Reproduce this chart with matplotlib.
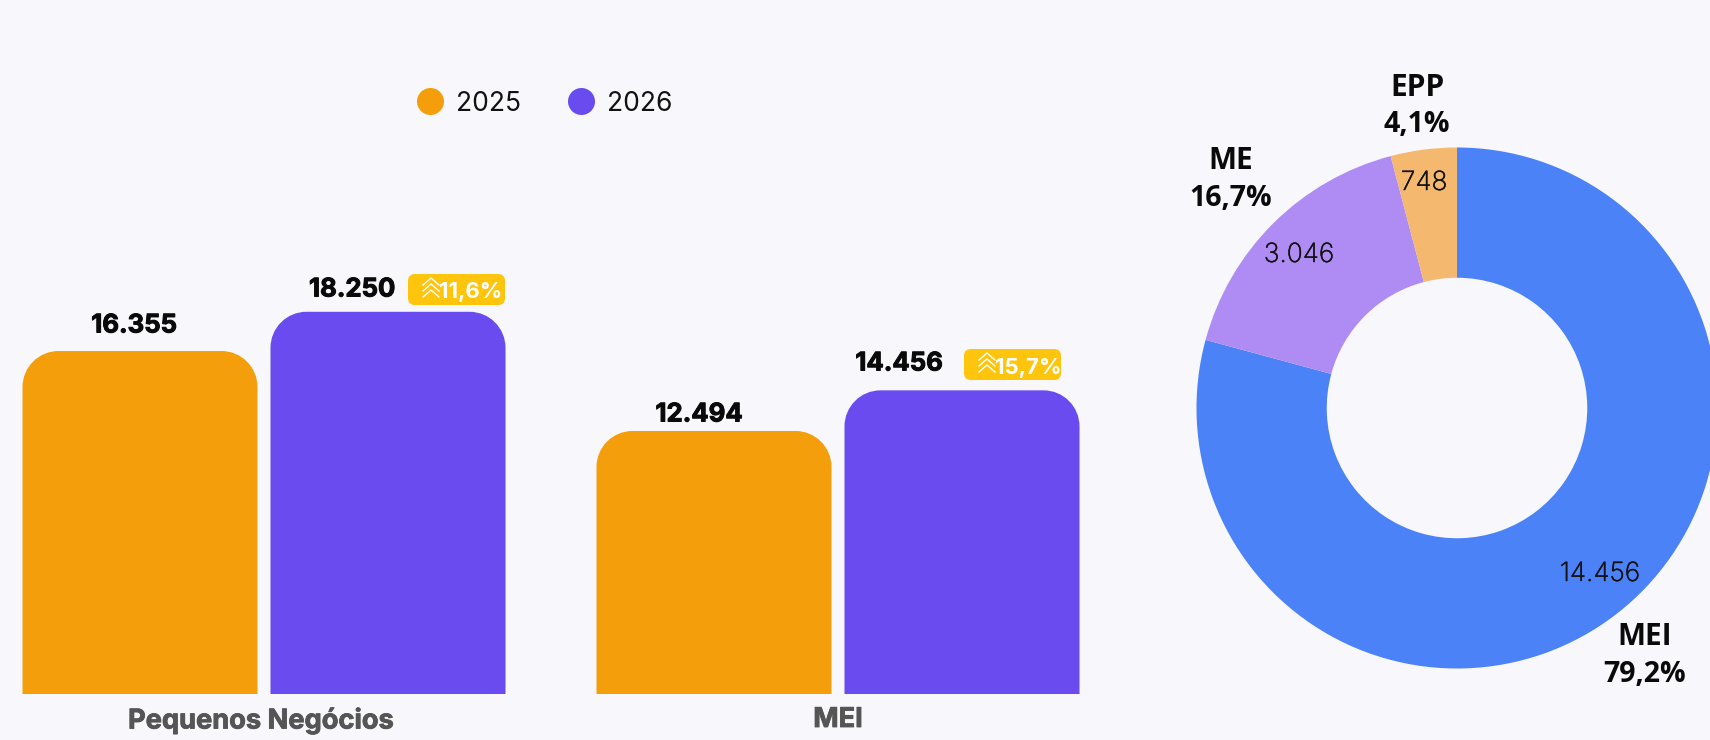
import matplotlib
matplotlib.use("Agg")
import matplotlib.pyplot as plt
import matplotlib.patheffects as pe
from matplotlib.patches import FancyBboxPatch, PathPatch, Circle
from matplotlib.path import Path

BG = "#F7F7FC"
ORANGE = "#F59E0B"
PURPLE = "#6A4BF0"
YELLOW = "#FFC40C"

categories = ["Pequenos Negócios", "MEI"]
years = ["2025", "2026"]
values_2025 = [16355, 12494]
values_2026 = [18250, 14456]
growth = ["11,6%", "15,7%"]

pie_names = ["MEI", "ME", "EPP"]
pie_values = [14456, 3046, 748]
pie_share = ["79,2%", "16,7%", "4,1%"]
pie_labels = ["14.456", "3.046", "748"]
pie_colors = ["#4C82F7", "#AF8CF4", "#F4B86E"]


def fmt(v):
    return f"{v:,}".replace(",", ".")


W, H = 1710, 740
fig = plt.figure(figsize=(W / 100, H / 100), dpi=100, facecolor=BG)


def box(x0, y0, x1, y1):
    # pixel box, y from the top
    return [x0 / W, 1 - y1 / H, (x1 - x0) / W, (y1 - y0) / H]


# bars
base_px = 694.4
top_px = 100
y_min = -225
px_per_unit = 0.02071
ax = fig.add_axes(box(0, top_px, 1100, base_px))
ax.set_facecolor("none")
ax.set_xlim(-264 / 574, (1100 - 264) / 574)
ax.set_ylim(y_min, y_min + (base_px - top_px) / px_per_unit)
ax.axis("off")

bar_w = 235 / 574
offset = 124 / 574
radius = 36
K = 0.5523


def round_top(bar):
    x0, x1 = bar.get_x(), bar.get_x() + bar.get_width()
    y0, y1 = bar.get_y(), bar.get_y() + bar.get_height()
    rx = radius / 574
    ry = radius / px_per_unit
    verts = [(x0, y0), (x0, y1 - ry),
             (x0, y1 - ry + K * ry), (x0 + rx - K * rx, y1), (x0 + rx, y1),
             (x1 - rx, y1),
             (x1 - rx + K * rx, y1), (x1, y1 - ry + K * ry), (x1, y1 - ry),
             (x1, y0), (x0, y0)]
    codes = [Path.MOVETO, Path.LINETO,
             Path.CURVE4, Path.CURVE4, Path.CURVE4,
             Path.LINETO,
             Path.CURVE4, Path.CURVE4, Path.CURVE4,
             Path.LINETO, Path.CLOSEPOLY]
    ax.add_patch(PathPatch(Path(verts, codes), fc=bar.get_facecolor(), ec="none"))
    bar.set_visible(False)


for i in range(len(categories)):
    for x, v, c in [(i - offset, values_2025[i], ORANGE), (i + offset, values_2026[i], PURPLE)]:
        b = ax.bar(x, v - y_min, bottom=y_min, width=bar_w, color=c)[0]
        round_top(b)

# overlay in pixels for text and small decorations
ov = fig.add_axes([0, 0, 1, 1])
ov.set_xlim(0, W)
ov.set_ylim(H, 0)
ov.axis("off")
ov.patch.set_alpha(0)
ov.set_zorder(5)

heavy = [pe.withStroke(linewidth=0.7, foreground="#0A0A0A")]
heavy_grey = [pe.withStroke(linewidth=0.6, foreground="#555555")]
val_font = dict(family="Inter", fontweight="bold", fontsize=18.5, color="#0A0A0A", ha="center", va="center",
                path_effects=heavy)
ov.text(134, 326, fmt(values_2025[0]), **val_font)
ov.text(352, 290, fmt(values_2026[0]), **val_font)
ov.text(699, 415, fmt(values_2025[1]), **val_font)
ov.text(899, 364, fmt(values_2026[1]), **val_font)

cat_font = dict(family="Inter", fontweight="bold", fontsize=19.6, color="#555555", ha="center", va="center",
                path_effects=heavy_grey)
ov.text(261, 721, categories[0], **cat_font)
ov.text(838, 720, categories[1], **cat_font)

# growth badges
for (x0, y0), label in zip([(408, 274), (964, 349)], growth):
    ov.add_patch(FancyBboxPatch((x0 + 6, y0 + 6), 85, 19, boxstyle="round,pad=6,rounding_size=7",
                                fc=YELLOW, ec="none"))
    ov.text(x0 + 31, y0 + 18.5, label, family="Inter", fontweight="bold", fontsize=16, color="white",
            ha="left", va="center")
    cx = x0 + 23
    for dy in [4, 10, 16]:
        ov.plot([cx - 8, cx, cx + 8], [y0 + dy + 7, y0 + dy, y0 + dy + 7], color="white", lw=1.0,
                solid_joinstyle="miter")

# legend
for x, c, label in [(430.5, ORANGE, years[0]), (581.5, PURPLE, years[1])]:
    ov.add_patch(Circle((x, 101.5), 13.5, fc=c, ec="none"))
    ov.text(x + 25, 104, label, family="Inter", fontsize=19, color="#111111", ha="left", va="center")

# donut
cx, cy, r = 1457, 408, 260.5
ax2 = fig.add_axes(box(cx - r, cy - r, cx + r, cy + r))
ax2.pie(pie_values, colors=pie_colors, startangle=90, counterclock=False, radius=1,
        wedgeprops=dict(width=0.5, linewidth=0))
ax2.set_xlim(-1, 1)
ax2.set_ylim(-1, 1)

thin = [pe.withStroke(linewidth=0.35, foreground="#111111")]
for (x, y), label in zip([(1600, 574), (1299, 255), (1424, 183)], pie_labels):
    ov.text(x, y, label, family="Inter", fontsize=19, fontweight="light", color="#111111", ha="center", va="center",
            path_effects=thin)

name_font = dict(family="Open Sans", fontweight="bold", fontsize=21.5, color="#0A0A0A", ha="center", va="center")
share_font = dict(family="Open Sans", fontweight="bold", fontsize=20.5, color="#0A0A0A", ha="center", va="center")
for (x, y1, y2), n, s in zip([(1645, 637, 674), (1231, 161, 198), (1417, 88, 125)], pie_names, pie_share):
    ov.text(x, y1, n, **name_font)
    ov.text(x, y2, s, **share_font)

fig.savefig("out.png", dpi=100, facecolor=BG)
